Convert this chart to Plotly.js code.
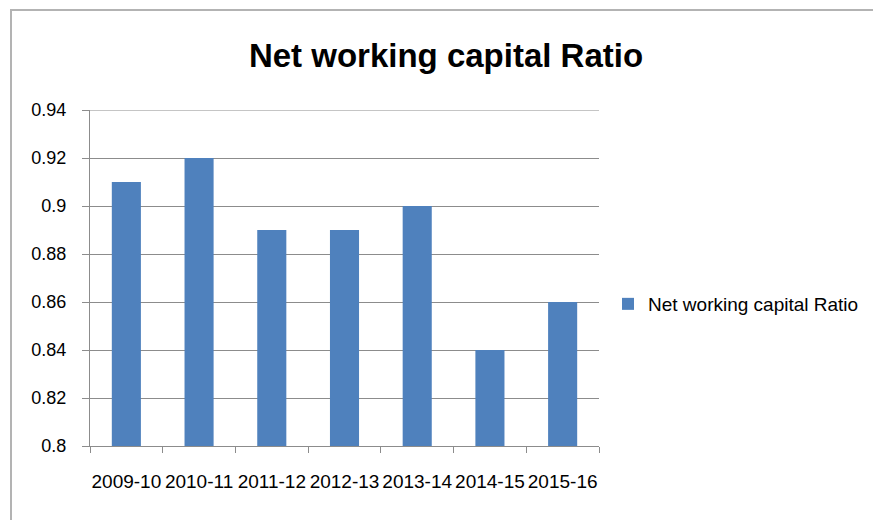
<!DOCTYPE html>
<html>
<head>
<meta charset="utf-8">
<script src="https://cdn.plot.ly/plotly-3.0.1.min.js"></script>
<style>html,body{margin:0;padding:0;background:#fff;}#chart{width:873px;height:520px;}</style>
</head>
<body>
<div id="chart"></div>
<script>
const categories = ["2009-10", "2010-11", "2011-12", "2012-13", "2013-14", "2014-15", "2015-16"];
const ratioValues = [0.91, 0.92, 0.89, 0.89, 0.90, 0.84, 0.86];
const seriesName = "Net working capital Ratio";
const yTickValues = [0.8, 0.82, 0.84, 0.86, 0.88, 0.9, 0.92, 0.94];
const yTickLabels = ["0.8", "0.82", "0.84", "0.86", "0.88", "0.9", "0.92", "0.94"];

const FONT = "Liberation Sans, Arial, sans-serif";
const GRID = "#8c8c8c";
const yMin = yTickValues[0];
const yMax = yTickValues[yTickValues.length - 1];

const trace = {
  type: "bar",
  x: categories,
  y: ratioValues,
  name: seriesName,
  marker: {color: "#4f81bd", line: {width: 0}},
  showlegend: true,
  hoverinfo: "x+y"
};

const layout = {
  width: 873,
  height: 520,
  margin: {l: 90, r: 274, t: 110, b: 74, pad: 0},
  paper_bgcolor: "#ffffff",
  plot_bgcolor: "#ffffff",
  font: {family: FONT, color: "#000000"},
  bargap: 0.6,
  showlegend: true,
  title: {
    text: "Net working capital Ratio",
    font: {family: FONT, size: 33, color: "#000000", weight: "bold"},
    xref: "container", yref: "container",
    x: 446 / 873, xanchor: "center",
    y: 1 - 55 / 520, yanchor: "middle"
  },
  xaxis: {
    type: "category",
    showgrid: false,
    showline: true,
    linecolor: GRID,
    linewidth: 1,
    ticks: "outside",
    tickson: "boundaries",
    ticklen: 6,
    tickcolor: GRID,
    tickwidth: 1,
    tickangle: 0,
    tickfont: {family: FONT, size: 19, color: "#000000"},
    ticklabelstandoff: 18,
    zeroline: false,
    fixedrange: true
  },
  yaxis: {
    range: [yMin, yMax],
    tickvals: yTickValues,
    ticktext: yTickLabels,
    showgrid: true,
    gridcolor: GRID,
    gridwidth: 1,
    showline: true,
    linecolor: GRID,
    linewidth: 1,
    ticks: "outside",
    ticklen: 7,
    tickcolor: GRID,
    tickwidth: 1,
    tickfont: {family: FONT, size: 18, color: "#000000"},
    ticklabelstandoff: 12,
    zeroline: false,
    fixedrange: true
  },
  legend: {
    xref: "container", yref: "container",
    x: 608 / 873, xanchor: "left",
    y: 1 - 304 / 520, yanchor: "middle",
    font: {family: FONT, size: 19, color: "#000000"},
    bgcolor: "rgba(0,0,0,0)",
    borderwidth: 0
  },
  shapes: [{
    type: "rect",
    xref: "paper", yref: "paper",
    x0: (11 - 90) / 509, x1: (890 - 90) / 509,
    y0: (446 - 540) / 336, y1: (446 - 10) / 336,
    line: {color: "#b3b3b3", width: 2},
    fillcolor: "rgba(0,0,0,0)",
    layer: "below"
  }, {
    type: "line",
    xref: "paper", yref: "y",
    x0: 0, x1: 1,
    y0: yMax, y1: yMax,
    line: {color: GRID, width: 1},
    layer: "below"
  }]
};

Plotly.newPlot("chart", [trace], layout, {displayModeBar: false, staticPlot: true});
</script>
</body>
</html>
